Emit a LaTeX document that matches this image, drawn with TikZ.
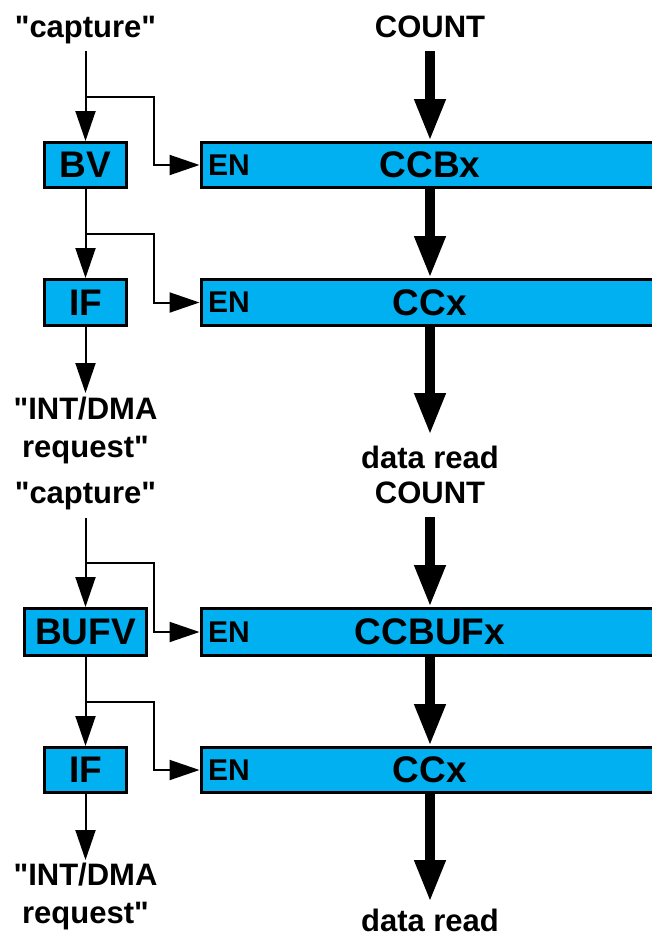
\documentclass[tikz,border=0pt]{standalone}
\usepackage{fontspec}
\setmainfont{Liberation Sans}[Ligatures=TeXOff]
\usetikzlibrary{arrows.meta,calc}
\definecolor{boxblue}{RGB}{0,176,240}
\begin{document}
\begin{tikzpicture}[x=1bp,y=-1bp,
  lbl/.style={inner sep=0pt,anchor=base,font=\fontsize{31bp}{31bp}\selectfont\bfseries},
  boxlbl/.style={inner sep=0pt,font=\fontsize{37bp}{37bp}\selectfont\bfseries},
  enlbl/.style={inner sep=0pt,font=\fontsize{30bp}{30bp}\selectfont\bfseries},
  regbox/.style={draw=black,fill=boxblue,line width=3bp,inner sep=0pt},
  tarrow/.style={line width=2bp,-{Triangle[length=30bp,width=20bp]}},
  bigarrow/.style={line width=10bp,-{Triangle[length=42bp,width=29bp]}}
]
\useasboundingbox (0,0) rectangle (652,937);
\clip (0,0) rectangle (652,937);

% ---------- texts ----------
\node[lbl] (cap1) at (85.5,37) {"capture"};
\node[lbl] (count1) at (430,37) {COUNT};
\node[lbl] (int1) at (85.5,419) {"INT/DMA};
\node[lbl] (req1) at (85.5,457) {request"};
\node[lbl] (data1) at (430,468) {data read};
\node[lbl] (count2) at (430,503) {COUNT};
\node[lbl] (cap2) at (85.5,503) {"capture"};
\node[lbl] (int2) at (85.5,885) {"INT/DMA};
\node[lbl] (req2) at (85.5,923) {request"};
\node[lbl] (data2) at (430,931) {data read};

% ---------- small boxes ----------
\node[regbox,minimum width=82bp,minimum height=45bp] (bv) at (85.5,165) {};
\node[boxlbl] at (bv.center) {BV};
\node[regbox,minimum width=82bp,minimum height=46bp] (if1) at (85.5,302.5) {};
\node[boxlbl] at (if1.center) {IF};
\node[regbox,minimum width=122bp,minimum height=47bp] (bufv) at (85.5,632) {};
\node[boxlbl] at (bufv.center) {BUFV};
\node[regbox,minimum width=82bp,minimum height=45bp] (if2) at (85.5,770) {};
\node[boxlbl] at (if2.center) {IF};

% ---------- wide registers ----------
\node[regbox,minimum width=460bp,minimum height=45bp,anchor=west] (ccbx) at (199.5,165) {};
\node[enlbl] (en1) at (229,165) {EN};
\node[boxlbl] (t1) at (430,165) {CCBx};
\node[regbox,minimum width=460bp,minimum height=46bp,anchor=west] (ccx1) at (199.5,302.5) {};
\node[enlbl] (en2) at (229,302.5) {EN};
\node[boxlbl] (t2) at (430,302.5) {CCx};
\node[regbox,minimum width=460bp,minimum height=47bp,anchor=west] (ccbufx) at (199.5,632) {};
\node[enlbl] (en3) at (229,632) {EN};
\node[boxlbl] (t3) at (430,632) {CCBUFx};
\node[regbox,minimum width=460bp,minimum height=45bp,anchor=west] (ccx2) at (199.5,770) {};
\node[enlbl] (en4) at (229,770) {EN};
\node[boxlbl] (t4) at (430,770) {CCx};

% ---------- coordinates ----------
\coordinate (s1) at (85.5,51);
\coordinate (b1) at (85.5,97);
\coordinate (b2) at (85.5,234);
\coordinate (e1) at (85.5,393);
\coordinate (s2) at (85.5,518);
\coordinate (b3) at (85.5,563);
\coordinate (b4) at (85.5,702);
\coordinate (e2) at (85.5,860);
\coordinate (elbow) at (154,0);
\coordinate (k1) at (430,51);
\coordinate (k2) at (430,435);
\coordinate (k3) at (430,517);
\coordinate (k4) at (430,902);

% ---------- thin connectors ----------
\draw[tarrow] (s1) -- (bv.north);
\draw[tarrow] (b1) -- (b1 -| elbow) |- (ccbx.west);
\draw[tarrow] (bv.south) -- (if1.north);
\draw[tarrow] (b2) -- (b2 -| elbow) |- (ccx1.west);
\draw[tarrow] (if1.south) -- (e1);
\draw[tarrow] (s2) -- (bufv.north);
\draw[tarrow] (b3) -- (b3 -| elbow) |- (ccbufx.west);
\draw[tarrow] (bufv.south) -- (if2.north);
\draw[tarrow] (b4) -- (b4 -| elbow) |- (ccx2.west);
\draw[tarrow] (if2.south) -- (e2);

% ---------- thick data arrows ----------
\draw[bigarrow] (k1) -- (ccbx.north -| k1);
\draw[bigarrow] (ccbx.south -| k1) -- (ccx1.north -| k1);
\draw[bigarrow] (ccx1.south -| k1) -- (k2);
\draw[bigarrow] (k3) -- (ccbufx.north -| k1);
\draw[bigarrow] (ccbufx.south -| k1) -- (ccx2.north -| k1);
\draw[bigarrow] (ccx2.south -| k1) -- (k4);
\end{tikzpicture}
\end{document}
